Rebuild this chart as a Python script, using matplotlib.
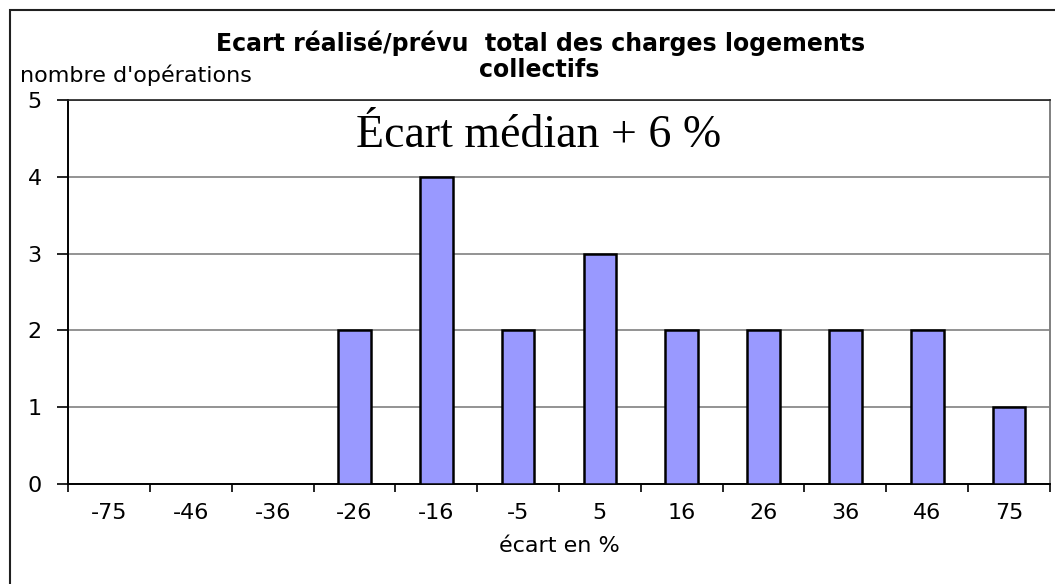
import matplotlib
matplotlib.use("Agg")
import matplotlib.pyplot as plt
from matplotlib.patches import Rectangle
import numpy as np

# Données du graphique
categories = ['-75', '-46', '-36', '-26', '-16', '-5', '5', '16', '26', '36', '46', '75']
nb_operations = [0, 0, 0, 2, 4, 2, 3, 2, 2, 2, 2, 1]
titre_1 = "Ecart réalisé/prévu  total des charges logements"
titre_2 = "collectifs"
annotation = "Écart médian + 6 %"

plt.rcParams['font.family'] = ['DejaVu Sans']

fig = plt.figure(figsize=(10.55, 5.84), dpi=100)
ax = fig.add_axes([68/1055, 1-484/584, (1050-68)/1055, (484-100)/584])

x = np.arange(len(categories))
hauteurs = np.array(nb_operations)
visibles = hauteurs > 0
ax.bar(x[visibles], hauteurs[visibles], width=0.4, color='#9999FF',
       edgecolor='black', linewidth=1.8, zorder=3)

ax.set_xlim(-0.5, len(categories) - 0.5)
ax.set_ylim(0, 5)
ax.set_yticks(range(6))
ax.set_xticks(x)
ax.set_xticklabels(categories)
ax.set_xticks(np.arange(-0.5, len(categories)), minor=True)
ax.tick_params(axis='x', which='major', length=0, pad=14, labelsize=16)
ax.tick_params(axis='x', which='minor', length=6, width=1.2, direction='out')
ax.tick_params(axis='y', length=8, width=1.2, pad=11, labelsize=16)

ax.yaxis.grid(True, color='#808080', linewidth=1.2, zorder=0)
ax.set_axisbelow(True)
for cote in ['left', 'bottom']:
    ax.spines[cote].set_color('black')
    ax.spines[cote].set_linewidth(1.4)
ax.spines['top'].set_color('#202020')
ax.spines['top'].set_linewidth(1.2)
ax.spines['right'].set_color('#808080')
ax.spines['right'].set_linewidth(1.4)

ax.set_xlabel('écart en %', fontsize=16, labelpad=9)

# titre sur deux lignes
fig.text(541/1055, 1-43/584, titre_1, ha='center', va='center', fontsize=17, fontweight='bold')
fig.text(539/1055, 1-70/584, titre_2, ha='center', va='center', fontsize=17, fontweight='bold')
fig.text(20/1055, 1-75/584, "nombre d'opérations", ha='left', va='center', fontsize=16)
fig.text(539/1055, 1-136/584, annotation, ha='center', va='center', fontsize=33,
         family='Liberation Serif')

# cadre extérieur
fig.patches.append(Rectangle((10/1055, -0.1), 1.2, 1.1 - 10/584, transform=fig.transFigure,
                             fill=False, edgecolor='#202020', linewidth=1.5))

fig.savefig('out.png', dpi=100)
